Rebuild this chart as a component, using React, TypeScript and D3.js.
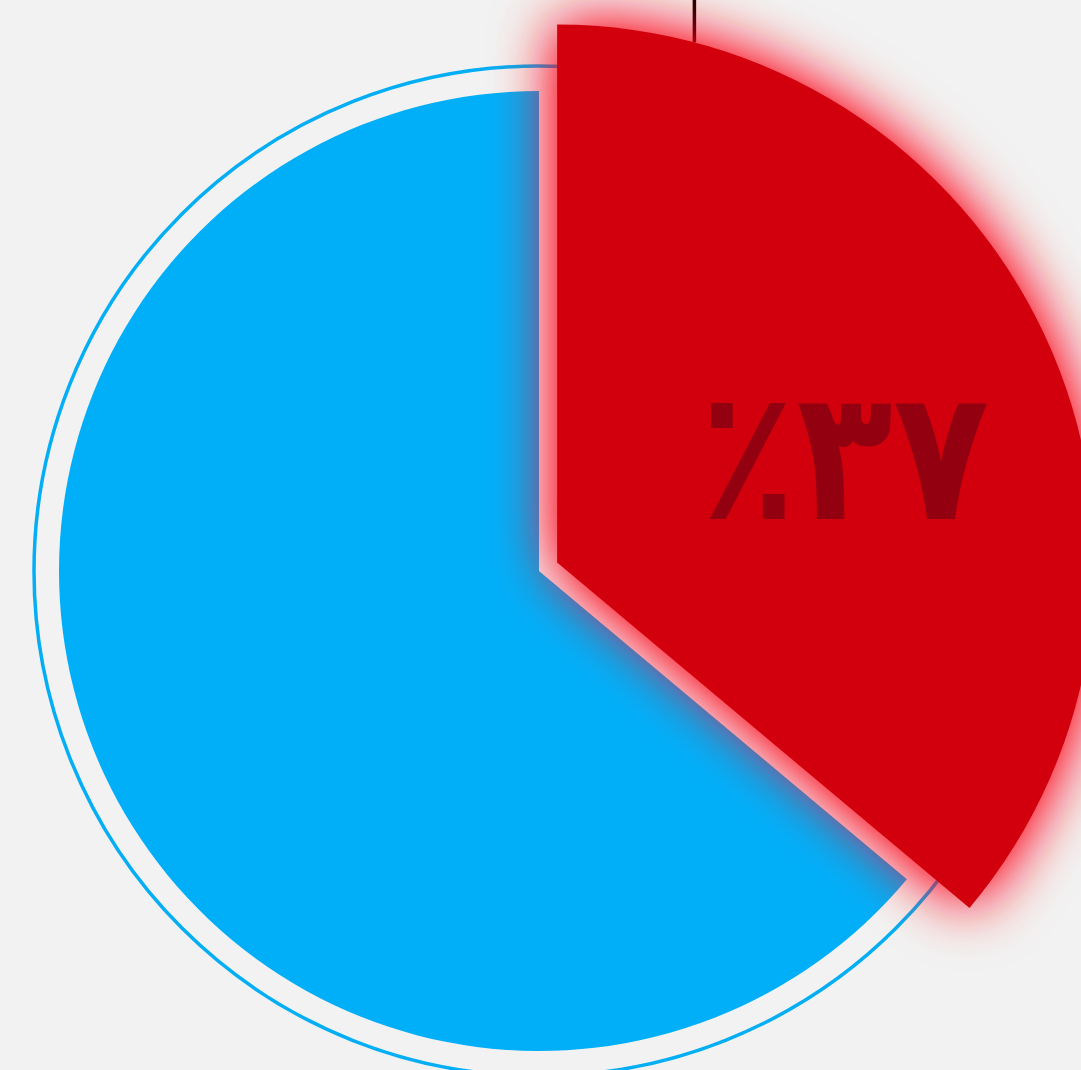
import { useEffect, useRef } from 'react';
import * as d3 from 'd3';

// data
const categories = ['سهم الف', 'سهم ب'];
const values = [36.1, 63.9];
const labels = ['٪۳۷', ''];
const colors = ['#d20010', '#01aff9'];

const W = 1081;
const H = 1070;

export default function App() {
  const svgRef = useRef<SVGSVGElement>(null);

  useEffect(() => {
    if (!svgRef.current) return;
    const root = d3.select(svgRef.current);
    root.selectAll('*').remove();

    const cx = 539;
    const cy = 571;
    const R = 480;

    // glow around the pulled-out slice
    const defs = root.append('defs');
    const glow = defs.append('filter')
      .attr('id', 'glow')
      .attr('filterUnits', 'userSpaceOnUse')
      .attr('x', -300).attr('y', -800)
      .attr('width', 1400).attr('height', 1600);
    glow.append('feGaussianBlur')
      .attr('in', 'SourceAlpha')
      .attr('stdDeviation', 31)
      .attr('result', 'blur');
    glow.append('feComponentTransfer')
      .attr('in', 'blur')
      .attr('result', 'boost')
      .append('feFuncA')
      .attr('type', 'linear')
      .attr('slope', 1.6);
    glow.append('feFlood')
      .attr('flood-color', '#ff0018')
      .attr('flood-opacity', 0.8)
      .attr('result', 'col');
    glow.append('feComposite')
      .attr('in', 'col').attr('in2', 'boost')
      .attr('operator', 'in')
      .attr('result', 'shadow');
    const merge = glow.append('feMerge');
    merge.append('feMergeNode').attr('in', 'shadow');
    merge.append('feMergeNode').attr('in', 'SourceGraphic');

    root.append('rect')
      .attr('width', W).attr('height', H)
      .attr('fill', '#f2f2f2');

    const g = root.append('g').attr('transform', `translate(${cx},${cy})`);

    const pie = d3.pie<number>().sort(null).value(d => d);
    const arcs = pie(values);

    // outer ring
    g.append('circle')
      .attr('r', R + 25)
      .attr('fill', 'none')
      .attr('stroke', '#03aef5')
      .attr('stroke-width', 3.5);

    const arcNormal = d3.arc<d3.PieArcDatum<number>>().innerRadius(0).outerRadius(R);
    const arcBig = d3.arc<d3.PieArcDatum<number>>().innerRadius(0).outerRadius(R + 58);

    const pull = 20;
    const offset = (a: d3.PieArcDatum<number>) => {
      const m = (a.startAngle + a.endAngle) / 2;
      return [Math.sin(m) * pull, -Math.cos(m) * pull];
    };

    // blue slice
    g.append('path')
      .attr('d', arcNormal(arcs[1]) as string)
      .attr('fill', colors[1]);

    // exploded red slice
    const sel = arcs[0];
    const [ox, oy] = offset(sel);
    const sg = g.append('g').attr('transform', `translate(${ox},${oy})`);

    // leader line (goes off the top)
    const la = 0.258;
    const lr = R + 58;
    sg.append('line')
      .attr('x1', Math.sin(la) * lr)
      .attr('y1', -Math.cos(la) * lr)
      .attr('x2', Math.sin(la) * lr)
      .attr('y2', -cy - 20)
      .attr('stroke', '#140000')
      .attr('stroke-width', 3.5);

    sg.append('path')
      .attr('d', arcBig(sel) as string)
      .attr('fill', colors[0])
      .attr('filter', 'url(#glow)');

    const mid = (sel.startAngle + sel.endAngle) / 2 + 0.08;
    const tr = (R + 58) * 0.57;
    sg.append('text')
      .attr('x', Math.sin(mid) * tr)
      .attr('y', -Math.cos(mid) * tr)
      .attr('dy', '0.35em')
      .attr('text-anchor', 'middle')
      .attr('direction', 'ltr')
      .attr('font-family', 'DejaVu Sans')
      .attr('font-weight', 'bold')
      .attr('font-size', 182)
      .attr('textLength', 290)
      .attr('lengthAdjust', 'spacingAndGlyphs')
      .attr('fill', '#930010')
      .text(labels[0]);

    root.attr('aria-label', categories.join(' / '));
  }, []);

  return (
    <svg
      ref={svgRef}
      width={W}
      height={H}
      style={{ position: 'absolute', left: 0, top: 0, display: 'block' }}
    />
  );
}
